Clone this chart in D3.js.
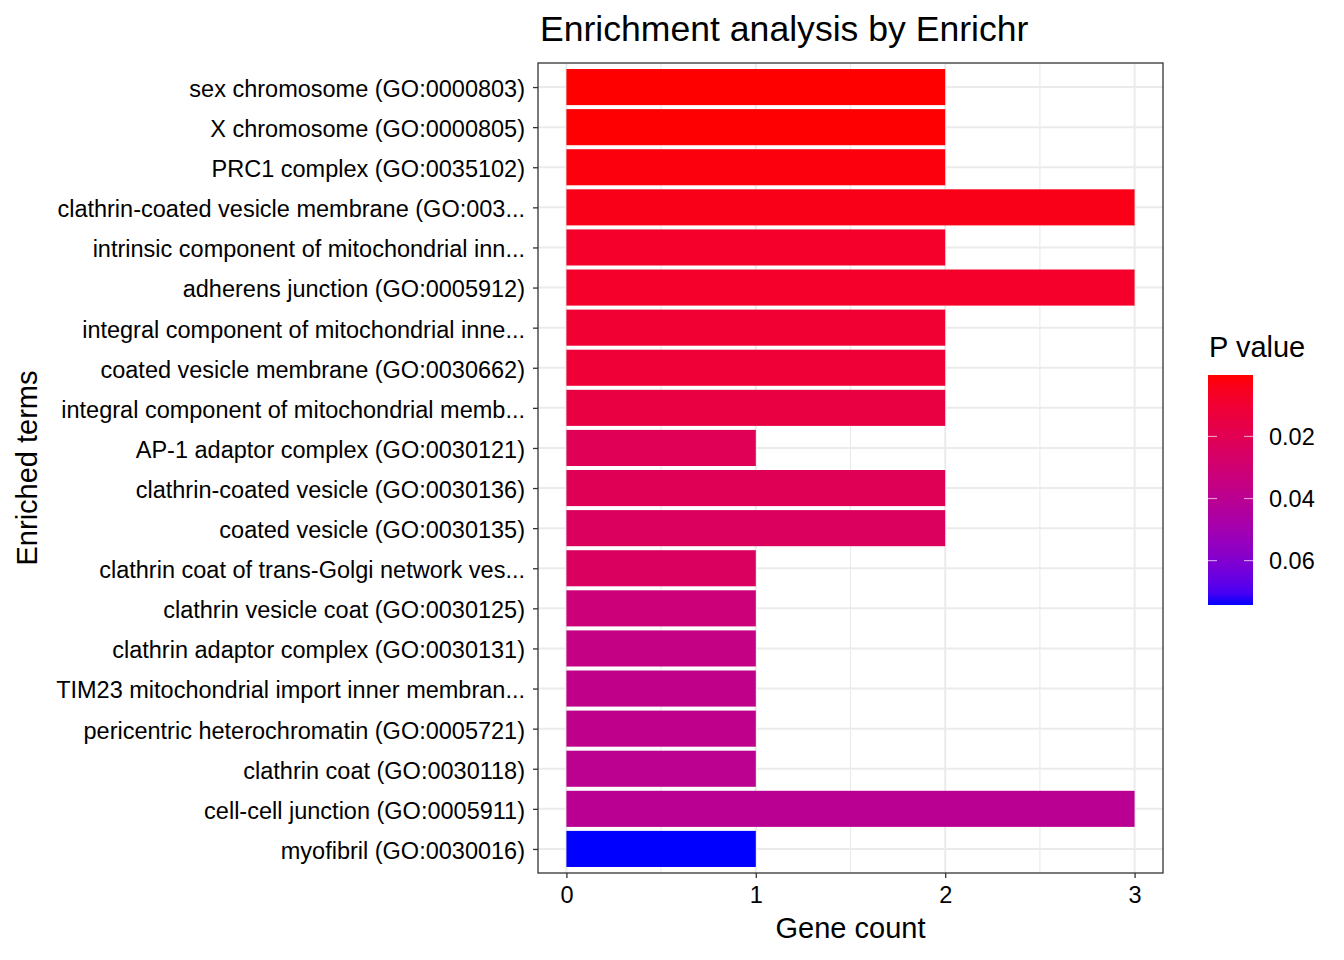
<!DOCTYPE html>
<html>
<head>
<meta charset="utf-8">
<script src="https://cdn.jsdelivr.net/npm/d3@7"></script>
<style>
   body { margin: 0; background: #fff; }
   svg { display: block; font-family: "Liberation Sans", Arial, Helvetica, sans-serif; }
</style>
</head>
<body>
<svg id="chart"></svg>
<script>

var width = 1344;
var height = 960;

// terms, top to bottom
var terms = [
   'sex chromosome (GO:0000803)',
   'X chromosome (GO:0000805)',
   'PRC1 complex (GO:0035102)',
   'clathrin-coated vesicle membrane (GO:003...',
   'intrinsic component of mitochondrial inn...',
   'adherens junction (GO:0005912)',
   'integral component of mitochondrial inne...',
   'coated vesicle membrane (GO:0030662)',
   'integral component of mitochondrial memb...',
   'AP-1 adaptor complex (GO:0030121)',
   'clathrin-coated vesicle (GO:0030136)',
   'coated vesicle (GO:0030135)',
   'clathrin coat of trans-Golgi network ves...',
   'clathrin vesicle coat (GO:0030125)',
   'clathrin adaptor complex (GO:0030131)',
   'TIM23 mitochondrial import inner membran...',
   'pericentric heterochromatin (GO:0005721)',
   'clathrin coat (GO:0030118)',
   'cell-cell junction (GO:0005911)',
   'myofibril (GO:0030016)'
];

var counts = [2, 2, 2, 3, 2, 3, 2, 2, 2, 1, 2, 2, 1, 1, 1, 1, 1, 1, 3, 1];

var pvalues = [
   0.0002, 0.0005, 0.0017, 0.0035, 0.0076, 0.0080, 0.0102, 0.0113, 0.0150, 0.0206,
   0.0210, 0.0232, 0.0240, 0.0320, 0.0358, 0.0376, 0.0380, 0.0395, 0.0405, 0.0743
];

var xTicks = [0, 1, 2, 3];
var xMinor = [0.5, 1.5, 2.5];
var legendTicks = [0.02, 0.04, 0.06];

var panel = { left: 538, right: 1163, top: 63, bottom: 873 };

var svg = d3.select('#chart')
   .attr('width', width)
   .attr('height', height)
;

var x = d3.scaleLinear()
   .domain([-0.15, 3.15])
   .range([panel.left, panel.right])
;

// discrete axis with ggplot's 0.6 expansion
var y = d3.scalePoint()
   .domain(terms)
   .range([panel.top, panel.bottom])
   .padding(0.6)
;

var barH = y.step() * 0.9;

var pExtent = d3.extent(pvalues);

var color = d3.scaleLinear()
   .domain(pExtent)
   .range(['red', 'blue'])
   .interpolate(d3.interpolateLab)
;

// grid
var grid = svg.append('g');

grid.selectAll('line.minor')
   .data(xMinor)
   .enter()
   .append('line')
   .attr('class', 'minor')
   .attr('x1', function(d) { return x(d); })
   .attr('x2', function(d) { return x(d); })
   .attr('y1', panel.top)
   .attr('y2', panel.bottom)
   .attr('stroke', '#ebebeb')
   .attr('stroke-width', 1.2)
;

grid.selectAll('line.vmajor')
   .data(xTicks)
   .enter()
   .append('line')
   .attr('class', 'vmajor')
   .attr('x1', function(d) { return x(d); })
   .attr('x2', function(d) { return x(d); })
   .attr('y1', panel.top)
   .attr('y2', panel.bottom)
   .attr('stroke', '#ebebeb')
   .attr('stroke-width', 2)
;

grid.selectAll('line.hmajor')
   .data(terms)
   .enter()
   .append('line')
   .attr('class', 'hmajor')
   .attr('x1', panel.left)
   .attr('x2', panel.right)
   .attr('y1', function(d) { return y(d); })
   .attr('y2', function(d) { return y(d); })
   .attr('stroke', '#ebebeb')
   .attr('stroke-width', 2)
;

// bars
svg.append('g')
   .selectAll('rect')
   .data(terms)
   .enter()
   .append('rect')
   .attr('x', x(0))
   .attr('y', function(d) { return y(d) - barH / 2; })
   .attr('width', function(d, i) { return x(counts[i]) - x(0); })
   .attr('height', barH)
   .attr('fill', function(d, i) { return color(pvalues[i]); })
;

// panel border
svg.append('rect')
   .attr('x', panel.left)
   .attr('y', panel.top)
   .attr('width', panel.right - panel.left)
   .attr('height', panel.bottom - panel.top)
   .attr('fill', 'none')
   .attr('stroke', '#333333')
   .attr('stroke-width', 1.3)
;

// axes
var yAxis = svg.append('g')
   .attr('transform', 'translate(' + panel.left + ',0)')
   .call(d3.axisLeft(y).tickSize(5).tickPadding(8))
;

yAxis.selectAll('.tick text').attr('dy', '0.4em');

var xAxis = svg.append('g')
   .attr('transform', 'translate(0,' + panel.bottom + ')')
   .call(d3.axisBottom(x).tickValues(xTicks).tickSize(5).tickPadding(8).tickFormat(d3.format('d')))
;

[yAxis, xAxis].forEach(function(a) {
   a.select('.domain').remove();
   a.selectAll('.tick line')
      .attr('stroke', '#333333')
      .attr('stroke-width', 1.3)
   ;
   a.selectAll('.tick text')
      .attr('fill', '#000')
      .style('font-size', '23.5px')
      .style('font-family', '"Liberation Sans", Arial, Helvetica, sans-serif')
   ;
});

// titles
svg.append('text')
   .attr('x', 540)
   .attr('y', 41)
   .style('font-size', '35.6px')
   .text('Enrichment analysis by Enrichr')
;

svg.append('text')
   .attr('x', (panel.left + panel.right) / 2)
   .attr('y', 938)
   .attr('text-anchor', 'middle')
   .style('font-size', '29px')
   .text('Gene count')
;

svg.append('text')
   .attr('transform', 'translate(37,' + ((panel.top + panel.bottom) / 2) + ') rotate(-90)')
   .attr('text-anchor', 'middle')
   .style('font-size', '29px')
   .text('Enriched terms')
;

// legend
var legend = { left: 1208, top: 375, w: 45, h: 230 };

var ly = d3.scaleLinear()
   .domain(pExtent)
   .range([legend.top, legend.top + legend.h])
;

var grad = svg.append('defs')
   .append('linearGradient')
   .attr('id', 'pgrad')
   .attr('x1', 0).attr('y1', 0)
   .attr('x2', 0).attr('y2', 1)
;

grad.selectAll('stop')
   .data(d3.range(0, 1.0001, 0.05))
   .enter()
   .append('stop')
   .attr('offset', function(d) { return d; })
   .attr('stop-color', function(d) { return color(pExtent[0] + d * (pExtent[1] - pExtent[0])); })
;

svg.append('text')
   .attr('x', 1209)
   .attr('y', 357)
   .style('font-size', '29px')
   .text('P value')
;

svg.append('rect')
   .attr('x', legend.left)
   .attr('y', legend.top)
   .attr('width', legend.w)
   .attr('height', legend.h)
   .attr('fill', 'url(#pgrad)')
;

var lt = svg.append('g')
   .selectAll('g')
   .data(legendTicks)
   .enter()
   .append('g')
   .attr('transform', function(d) { return 'translate(0,' + ly(d) + ')'; })
;

lt.append('line')
   .attr('x1', legend.left)
   .attr('x2', legend.left + 9)
   .attr('stroke', 'rgba(255,255,255,0.6)')
   .attr('stroke-width', 1.2)
;

lt.append('line')
   .attr('x1', legend.left + legend.w - 9)
   .attr('x2', legend.left + legend.w)
   .attr('stroke', 'rgba(255,255,255,0.6)')
   .attr('stroke-width', 1.2)
;

lt.append('text')
   .attr('x', 1269)
   .attr('dy', '0.35em')
   .style('font-size', '23.5px')
   .text(function(d) { return d3.format('.2f')(d); })
;

</script>
</body>
</html>
